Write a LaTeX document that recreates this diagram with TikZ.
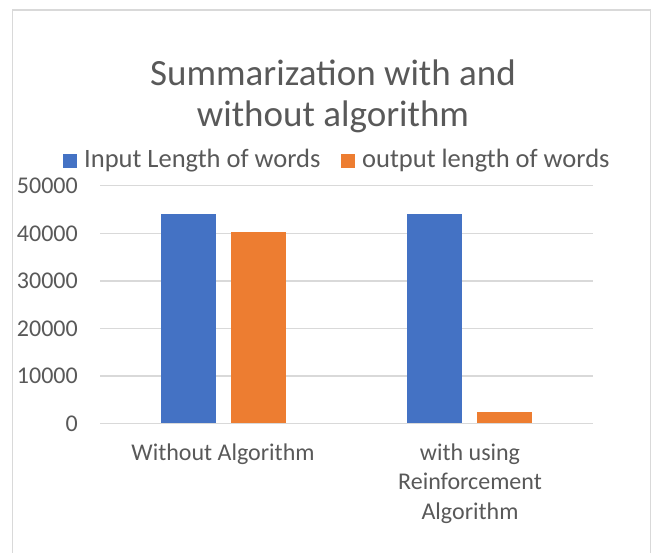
\documentclass[tikz,border=0pt]{standalone}
\usepackage{fontspec}
\setmainfont{Carlito}
\definecolor{serA}{HTML}{4472C4}
\definecolor{serB}{HTML}{ED7D31}
\definecolor{txt}{HTML}{595959}
\definecolor{grid}{HTML}{D9D9D9}
\tikzset{
  gridline/.style={draw=grid, line width=1.4pt},
  tick/.style={text=txt, font=\fontsize{24}{28}\selectfont, anchor=east, inner sep=0pt},
  legtext/.style={text=txt, font=\fontsize{26.5}{30}\selectfont, anchor=west, inner sep=0pt},
  cat/.style={text=txt, font=\fontsize{24}{29.5}\selectfont, align=center, inner sep=0pt}
}
\begin{document}
\begin{tikzpicture}[x=1pt, y=-1pt]
  \useasboundingbox (0,0) rectangle (656,552);
  \fill[white] (0,0) rectangle (656,552);
  % chart frame (bottom edge lies below the page)
  \draw[grid, line width=1.5pt] (12.5,10) rectangle (650.5,570);
  % title
  \node[text=txt, font=\fontsize{37}{41}\selectfont, align=center, inner sep=0pt] (title) at (333,96)
    {Summarization with and\\without algorithm};
  % legend
  \fill[serA] (63,154) rectangle (77,168);
  \node[legtext] (legA) at (84,161) {Input Length of words};
  \fill[serB] (341,154) rectangle (355,168);
  \node[legtext] (legB) at (362,161) {output length of words};
  % value axis: 0 at y=423.7, 10000 per 47.6
  \foreach \v [count=\i from 0] in {0,10000,20000,30000,40000,50000} {
    \draw[gridline] (100,423.7-47.6*\i) -- (593,423.7-47.6*\i);
    \node[tick] (t\i) at (78,423.7-47.6*\i) {\v};
  }
  % bars
  \fill[serA] (161,423.7) rectangle (216,{423.7-47.6*4.41});
  \fill[serB] (231,423.7) rectangle (286,{423.7-47.6*4.03});
  \fill[serA] (407,423.7) rectangle (462,{423.7-47.6*4.41});
  \fill[serB] (477,423.7) rectangle (532,{423.7-47.6*0.25});
  \draw[gridline] (100,423.7) -- (593,423.7);
  % category labels
  \node[cat, anchor=north] (c1) at (223,443.5) {Without Algorithm};
  \node[cat, anchor=north] (c2) at (470,443.5) {with using\\Reinforcement\\Algorithm};
\end{tikzpicture}
\end{document}
